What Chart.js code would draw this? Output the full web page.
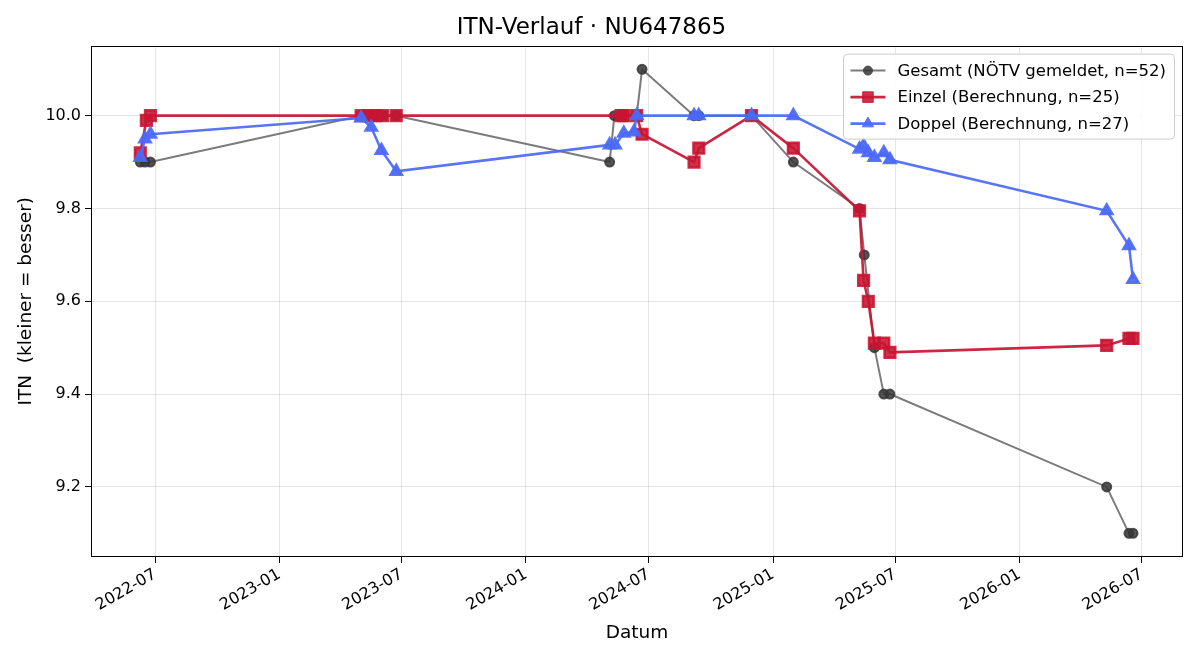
<!DOCTYPE html>
<html>
<head>
<meta charset="utf-8">
<script src="https://cdn.jsdelivr.net/npm/chart.js@4/dist/chart.umd.min.js"></script>
<style>
    html, body { margin: 0; padding: 0; background: #fff; }
    #wrap { width: 1200px; height: 660px; }
</style>
</head>
<body>
<div id="wrap"><canvas id="itnChart" width="1200" height="660"></canvas></div>
<script>
// Gesamt (NÖTV gemeldet)
const gesamtDates = [
    "2022-06-09", "2022-06-16", "2022-06-24", "2023-05-02", "2023-05-13", "2023-05-23",
    "2023-06-03", "2023-06-23", "2024-05-04", "2024-05-11", "2024-05-21", "2024-06-13",
    "2024-06-21", "2024-09-06", "2024-09-13", "2024-11-30", "2025-01-31", "2025-05-09",
    "2025-05-16", "2025-05-31", "2025-06-14", "2025-06-23", "2026-05-10", "2026-06-12",
    "2026-06-18"
];
const gesamtValues = [
    9.9, 9.9, 9.9, 10.0, 10.0, 10.0,
    10.0, 10.0, 9.9, 10.0, 10.0, 10.0,
    10.1, 10.0, 10.0, 10.0, 9.9, 9.8,
    9.7, 9.5, 9.4, 9.4, 9.2, 9.1,
    9.1
];

// Einzel (Berechnung)
const einzelDates = [
    "2022-06-09", "2022-06-18", "2022-06-24", "2023-05-02", "2023-05-13", "2023-05-23",
    "2023-06-03", "2023-06-23", "2024-05-21", "2024-05-25", "2024-06-13", "2024-06-21",
    "2024-09-06", "2024-09-13", "2024-11-30", "2025-01-31", "2025-05-09", "2025-05-15",
    "2025-05-22", "2025-05-31", "2025-06-14", "2025-06-23", "2026-05-10", "2026-06-12",
    "2026-06-18"
];
const einzelValues = [
    9.92, 9.99, 10.0, 10.0, 10.0, 10.0,
    10.0, 10.0, 10.0, 10.0, 10.0, 9.96,
    9.90, 9.93, 10.0, 9.93, 9.795, 9.645,
    9.60, 9.51, 9.51, 9.49, 9.505, 9.52,
    9.52
];

// Doppel (Berechnung)
const doppelDates = [
    "2022-06-09", "2022-06-16", "2022-06-24", "2023-05-02", "2023-05-17", "2023-06-01",
    "2023-06-23", "2024-05-04", "2024-05-12", "2024-05-25", "2024-06-09", "2024-06-13",
    "2024-09-06", "2024-09-13", "2024-11-30", "2025-01-31", "2025-05-09", "2025-05-15",
    "2025-05-22", "2025-05-31", "2025-06-14", "2025-06-23", "2026-05-10", "2026-06-12",
    "2026-06-18"
];
const doppelValues = [
    9.91, 9.95, 9.96, 9.995, 9.975, 9.925,
    9.88, 9.937, 9.937, 9.962, 9.965, 10.0,
    10.0, 10.0, 10.0, 10.0, 9.928, 9.935,
    9.92, 9.91, 9.92, 9.905, 9.795, 9.72,
    9.647
];

const xTickLabels = ["2022-07", "2023-01", "2023-07", "2024-01", "2024-07", "2025-01", "2025-07", "2026-01", "2026-07"];
const yTickValues = [9.2, 9.4, 9.6, 9.8, 10.0];

const legendLabels = [
    "Gesamt (NÖTV gemeldet, n=52)",
    "Einzel (Berechnung, n=25)",
    "Doppel (Berechnung, n=27)"
];

const FONT = "'DejaVu Sans', 'Liberation Sans', sans-serif";

function toMs(s) {
    const p = s.split("-").map(Number);
    return Date.UTC(p[0], p[1] - 1, p[2] || 1);
}

function toPoints(dates, values) {
    return dates.map((d, i) => ({ x: toMs(d), y: values[i] }));
}

function monthLabel(ms) {
    const d = new Date(ms);
    return d.getUTCFullYear() + "-" + String(d.getUTCMonth() + 1).padStart(2, "0");
}

// full box around the plot area, like matplotlib spines
const framePlugin = {
    id: "frame",
    afterDatasetsDraw(chart) {
        const { ctx, chartArea: a } = chart;
        ctx.save();
        ctx.strokeStyle = "#000";
        ctx.lineWidth = 1;
        ctx.strokeRect(Math.round(a.left) + 0.5, Math.round(a.top) + 0.5,
            Math.round(a.right - a.left) - 1, Math.round(a.bottom - a.top) - 1);
        ctx.restore();
    }
};

// legend drawn inside the plot, upper right
const boxLegend = {
    id: "boxLegend",
    afterDraw(chart) {
        const { ctx, chartArea: a } = chart;
        ctx.save();
        ctx.font = "16.5px " + FONT;
        let textW = 0;
        legendLabels.forEach(t => { textW = Math.max(textW, ctx.measureText(t).width); });
        const w = 54 + textW + 8;
        const h = 85;
        const right = a.right - 9;
        const left = right - w;
        const top = a.top + 8;

        ctx.fillStyle = "rgba(255,255,255,0.85)";
        ctx.strokeStyle = "#cccccc";
        ctx.lineWidth = 1;
        ctx.beginPath();
        ctx.roundRect(Math.round(left) + 0.5, top + 0.5, Math.round(w), h, 4);
        ctx.fill();
        ctx.stroke();

        chart.data.datasets.forEach((ds, i) => {
            const y = top + 17 + i * 26.5;
            ctx.strokeStyle = ds.borderColor;
            ctx.lineWidth = ds.borderWidth;
            ctx.beginPath();
            ctx.moveTo(left + 7, y);
            ctx.lineTo(left + 42, y);
            ctx.stroke();
            ctx.fillStyle = ds.pointBackgroundColor;
            ctx.strokeStyle = ds.pointBorderColor;
            ctx.lineWidth = 1;
            Chart.helpers.drawPoint(ctx, {
                pointStyle: ds.pointStyle,
                radius: ds.pointRadius,
                borderWidth: 1
            }, left + 24.5, y);
            ctx.fillStyle = "#000";
            ctx.textBaseline = "middle";
            ctx.textAlign = "left";
            ctx.fillText(legendLabels[i], left + 54, y + 1);
        });
        ctx.restore();
    }
};

function renderChart() {
    const ctx = document.getElementById("itnChart").getContext("2d");

    new Chart(ctx, {
        type: "line",
        data: {
            datasets: [
                {
                    label: legendLabels[0],
                    data: toPoints(gesamtDates, gesamtValues),
                    borderColor: "rgba(90,90,90,0.8)",
                    borderWidth: 2,
                    pointStyle: "circle",
                    pointRadius: 4.5,
                    pointBackgroundColor: "rgba(55,55,55,0.85)",
                    pointBorderColor: "rgba(55,55,55,0.85)",
                    order: 3
                },
                {
                    label: legendLabels[1],
                    data: toPoints(einzelDates, einzelValues),
                    borderColor: "rgba(200,20,50,0.92)",
                    borderWidth: 2.6,
                    pointStyle: "rect",
                    pointRadius: 7.5,
                    pointBackgroundColor: "rgba(200,20,50,0.88)",
                    pointBorderColor: "rgba(200,20,50,0.88)",
                    order: 2
                },
                {
                    label: legendLabels[2],
                    data: toPoints(doppelDates, doppelValues),
                    borderColor: "rgba(75,105,245,0.92)",
                    borderWidth: 2.6,
                    pointStyle: "triangle",
                    pointRadius: 6.5,
                    pointBackgroundColor: "rgba(75,105,245,0.9)",
                    pointBorderColor: "rgba(75,105,245,0.9)",
                    order: 1
                }
            ]
        },
        options: {
            responsive: false,
            animation: false,
            layout: { padding: { left: 0, right: 17, top: 0, bottom: 0 } },
            plugins: {
                legend: { display: false },
                tooltip: { enabled: false },
                title: {
                    display: true,
                    text: "ITN-Verlauf · NU647865",
                    color: "#000",
                    font: { family: FONT, size: 23, weight: "normal" },
                    padding: { top: 14, bottom: 4 }
                }
            },
            scales: {
                x: {
                    type: "linear",
                    min: toMs("2022-03-28"),
                    max: toMs("2026-08-31"),
                    afterBuildTicks: scale => {
                        scale.ticks = xTickLabels.map(s => ({ value: toMs(s) }));
                    },
                    afterFit: scale => { scale.height = 103; },
                    ticks: {
                        callback: v => monthLabel(v),
                        color: "#000",
                        font: { family: FONT, size: 16 },
                        minRotation: 30,
                        maxRotation: 30,
                        autoSkip: false,
                        padding: 2
                    },
                    grid: {
                        color: "rgba(0,0,0,0.1)",
                        tickColor: "#000",
                        tickLength: 6,
                        drawOnChartArea: true
                    },
                    border: { display: false },
                    title: {
                        display: true,
                        text: "Datum",
                        color: "#000",
                        font: { family: FONT, size: 18.5 },
                        padding: { top: 0, bottom: 16 }
                    }
                },
                y: {
                    min: 9.049,
                    max: 10.151,
                    afterBuildTicks: scale => {
                        scale.ticks = yTickValues.map(v => ({ value: v }));
                    },
                    afterFit: scale => { scale.width = 91; },
                    ticks: {
                        callback: v => v.toFixed(1),
                        color: "#000",
                        font: { family: FONT, size: 16 },
                        padding: 4
                    },
                    grid: {
                        color: "rgba(0,0,0,0.1)",
                        tickColor: "#000",
                        tickLength: 6
                    },
                    border: { display: false },
                    title: {
                        display: true,
                        text: "ITN  (kleiner = besser)",
                        color: "#000",
                        font: { family: FONT, size: 18.5 },
                        padding: { top: 15, bottom: 0 }
                    }
                }
            }
        },
        plugins: [framePlugin, boxLegend]
    });
}

renderChart();
</script>
</body>
</html>
